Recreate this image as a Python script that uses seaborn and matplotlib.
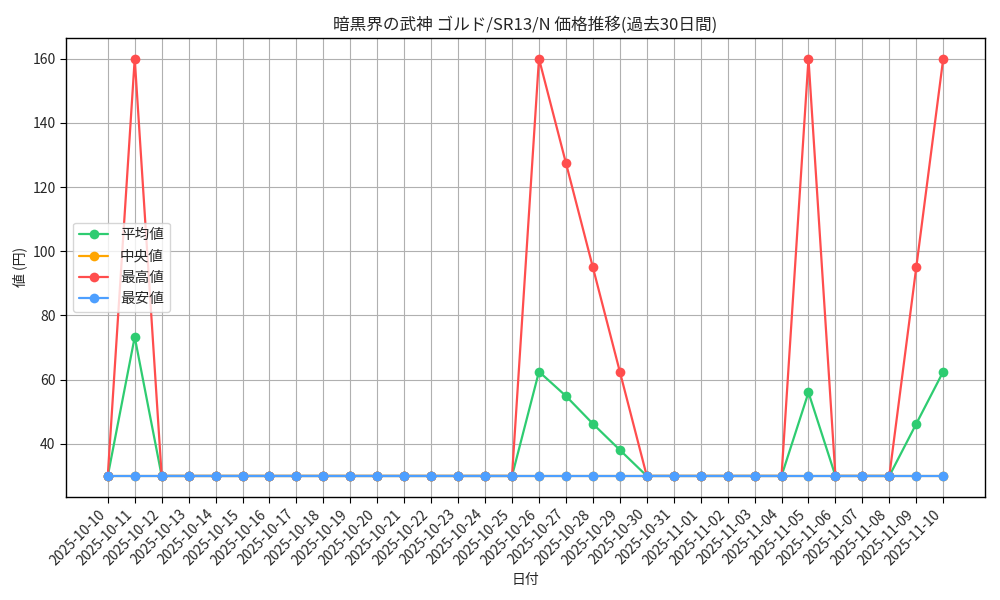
import matplotlib
matplotlib.use("Agg")
import matplotlib.pyplot as plt
import seaborn as sns
import pandas as pd

dates = ["2025-10-10", "2025-10-11", "2025-10-12", "2025-10-13", "2025-10-14", "2025-10-15",
         "2025-10-16", "2025-10-17", "2025-10-18", "2025-10-19", "2025-10-20", "2025-10-21",
         "2025-10-22", "2025-10-23", "2025-10-24", "2025-10-25", "2025-10-26", "2025-10-27",
         "2025-10-28", "2025-10-29", "2025-10-30", "2025-10-31", "2025-11-01", "2025-11-02",
         "2025-11-03", "2025-11-04", "2025-11-05", "2025-11-06", "2025-11-07", "2025-11-08",
         "2025-11-09", "2025-11-10"]

avg_vals = [30, 73.3, 30, 30, 30, 30, 30, 30, 30, 30, 30, 30, 30, 30, 30, 30, 62.5, 54.9,
            46.25, 38.1, 30, 30, 30, 30, 30, 30, 56, 30, 30, 30, 46.25, 62.5]
median_vals = [30] * 32
max_vals = [30, 160, 30, 30, 30, 30, 30, 30, 30, 30, 30, 30, 30, 30, 30, 30, 160, 127.5,
            95, 62.5, 30, 30, 30, 30, 30, 30, 160, 30, 30, 30, 95, 160]
min_vals = [30] * 32

series_names = ["平均値", "中央値", "最高値", "最安値"]
colors = ["#2ecc71", "#ffa500", "#ff4d4d", "#4d9fff"]

sns.set_style("whitegrid")
plt.rcParams['font.family'] = ['Noto Sans CJK JP', 'DejaVu Sans']

fig, ax = plt.subplots(figsize=(10, 6), dpi=100)
x = list(range(len(dates)))
for name, vals, c in zip(series_names, [avg_vals, median_vals, max_vals, min_vals], colors):
    sns.lineplot(x=x, y=vals, marker='o', markersize=7, markeredgewidth=0,
                 color=c, linewidth=1.6, label=name, ax=ax)

ax.set_xticks(x)
ax.set_xticklabels(dates, rotation=45, ha='right', fontsize=10)
ax.tick_params(axis='y', labelsize=10)
ax.tick_params(axis='both', which='both', length=4, color='black', bottom=True, left=True)
ax.set_title("暗黒界の武神 ゴルド/SR13/N 価格推移(過去30日間)", fontsize=12)
ax.set_xlabel("日付", fontsize=10)
ax.set_ylabel("値 (円)", fontsize=10)
ax.grid(True, color='#b0b0b0', linewidth=0.8)
for s in ax.spines.values():
    s.set_color('black')
    s.set_linewidth(1.0)
ax.legend(loc='center left', fontsize=10.5, frameon=True)
fig.subplots_adjust(left=0.066, right=0.985, top=0.937, bottom=0.172)
fig.savefig("out.png", dpi=100)
